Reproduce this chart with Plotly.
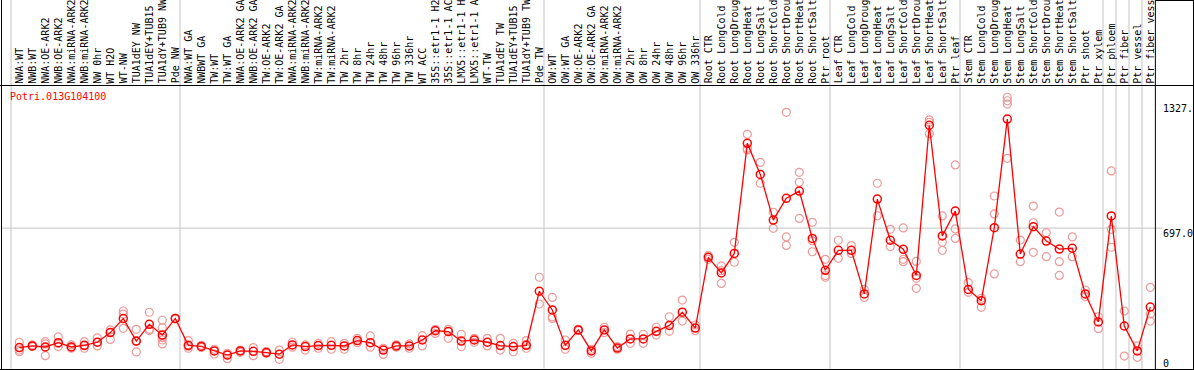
import plotly.graph_objects as go

gene = "Potri.013G104100"

categories = [
    "NWA:WT", "NWB:WT", "NWA:OE-ARK2", "NWB:OE-ARK2", "NWA:miRNA-ARK2", "NWB:miRNA-ARK2",
    "NW 0hr", "WT H2O", "WT-NW", "TUA1dEY NW", "TUA1dEY+TUB15", "TUA1dY+TUB9 NW", "Pde NW",
    "NWA:WT GA", "NWBWT GA", "TW:WT", "TW:WT GA", "NWA:OE-ARK2 GA", "NWB:OE-ARK2 GA",
    "TW:OE-ARK2", "TW:OE-ARK2 GA", "NWA:miRNA-ARK2", "NWB:miRNA-ARK2", "TW:miRNA-ARK2",
    "TW:miRNA-ARK2", "TW 2hr", "TW 8hr", "TW 24hr", "TW 48hr", "TW 96hr", "TW 336hr",
    "WT ACC", "35S::etr1-1 H2", "35S::etr1-1 AC", "LMX5::etr1-1 H", "LMX5::etr1-1 A",
    "WT-TW", "TUA1dEY TW", "TUA1dEY+TUB15", "TUA1dY+TUB9 TW", "Pde TW",
    "OW:WT", "OW:WT GA", "OW:OE-ARK2", "OW:OE-ARK2 GA", "OW:miRNA-ARK2", "OW:miRNA-ARK2",
    "OW 2hr", "OW 8hr", "OW 24hr", "OW 48hr", "OW 96hr", "OW 336hr",
    "Root CTR", "Root LongCold", "Root LongDroug", "Root LongHeat", "Root LongSalt",
    "Root ShortCold", "Root ShortDrou", "Root ShortHeat", "Root ShortSalt", "Ptr root",
    "Leaf CTR", "Leaf LongCold", "Leaf LongDroug", "Leaf LongHeat", "Leaf LongSalt",
    "Leaf ShortCold", "Leaf ShortDrou", "Leaf ShortHeat", "Leaf ShortSalt", "Ptr leaf",
    "Stem CTR", "Stem LongCold", "Stem LongDroug", "Stem LongHeat", "Stem LongSalt",
    "Stem ShortCold", "Stem ShortDrou", "Stem ShortHeat", "Stem ShortSalt", "Ptr shoot", "Ptr xylem",
    "Ptr phloem", "Ptr fiber", "Ptr vessel", "Ptr fiber vess",
]

group_sizes = [13, 28, 12, 10, 10, 11, 1, 1, 1, 1]

means = [
    116, 124, 119, 140, 119, 127, 142, 189, 257, 148, 229, 177, 258,
    127, 122, 100, 80, 100, 98, 92, 84, 129, 121, 126, 127, 124, 150, 140, 104, 124,
    124, 153, 198, 194, 148, 153, 142, 126, 121, 127, 390,
    299, 127, 202, 100, 202, 114, 158, 158, 195, 224, 288, 211,
    555, 479, 574, 1109, 958, 736, 842, 877, 647, 492,
    589, 589, 377, 838, 638, 594, 467, 1197, 659, 780,
    399, 344, 699, 1227, 571, 704, 634, 595, 599, 377, 241,
    756, 221, 100, 313,
]

replicates = [
    [142, 104, 96], [124, 121, 129], [145, 134, 77], [168, 121, 137], [129, 113, 119],
    [145, 113, 124], [163, 124, 142], [202, 156, 189], [294, 279, 210], [205, 95, 148],
    [288, 199, 205], [249, 213, 153, 134, 165], [258, 255],
    [150, 113, 122], [127, 117], [108, 85], [88, 62], [104, 93], [116, 77], [97, 88],
    [104, 59], [142, 118], [129, 104], [137, 113], [145, 108], [137, 108], [140, 161],
    [173, 118], [83, 113], [129, 118], [113, 134], [174, 124], [205, 185], [205, 161],
    [181, 121], [161, 142], [161, 124], [161, 104], [137, 96], [150, 113, 132], [458, 328],
    [360, 266, 258], [153, 108], [205, 198], [108, 88], [215, 189], [121, 108], [182, 137],
    [181, 137], [215, 177], [266, 195], [347, 245], [226, 199],
    [563, 545], [513, 428, 490], [628, 531], [1153, 1085, 1077], [1017, 915], [774, 696],
    [1260, 654, 613], [968, 920, 744], [725, 582, 636], [545, 466, 458],
    [638, 550], [612, 574], [399, 360], [915, 757], [691, 607], [698, 545, 534],
    [535, 404, 453], [1223, 1211, 1156], [756, 628, 589], [1004, 693, 647],
    [432, 385], [312, 356], [853, 766, 474], [1333, 1316, 1300, 1036], [639, 534],
    [804, 723, 579], [675, 558], [775, 534, 467], [654, 558], [396, 364], [266, 208],
    [975, 691, 604], [294, 75], [124, 69], [409, 279, 245],
]

y_ticks = ["1327.", "697.0", "0"]
mid_value = 697.0

# ---- geometry (pixel based) ----
W, H = 1194, 370
X0, DX = 19.3, 13.0          # pixel of first category, spacing
def px2x(p):
    return (p - X0) / DX
Y_MID_PX, PX_PER_UNIT = 228.1, 0.2057
def py2v(p):
    return mid_value + (Y_MID_PX - p) / PX_PER_UNIT
def py2paper(p):
    return 1 - p / H

idx = list(range(len(categories)))

fig = go.Figure()

rx, ry = [], []
for i, reps in enumerate(replicates):
    for r in reps:
        rx.append(i)
        ry.append(r)

fig.add_trace(go.Scatter(
    x=rx, y=ry, mode="markers",
    marker=dict(symbol="circle-open", size=8, color="#ec9a9a", line=dict(width=1.2, color="#ec9a9a")),
    hoverinfo="skip", showlegend=False,
))
fig.add_trace(go.Scatter(
    x=idx, y=means, mode="lines+markers",
    line=dict(color="#ff0000", width=1.3),
    marker=dict(symbol="circle-open", size=8, color="#ff0000", line=dict(width=1.5, color="#ff0000")),
    showlegend=False,
))

shapes = []
bounds = [0]
b = 0
for g in group_sizes:
    b += g
    bounds.append(b)
for k in bounds[:-1]:
    xx = k - (X0 - 11) / DX
    shapes.append(dict(type="line", xref="x", yref="paper", x0=xx, x1=xx, y0=0, y1=1,
                       line=dict(color="#c4c4c4", width=1), layer="below"))
xr = bounds[-1] - (X0 - 11) / DX + 0.03
shapes.append(dict(type="line", xref="x", yref="paper", x0=xr, x1=xr, y0=0, y1=1,
                   line=dict(color="black", width=1)))
shapes.append(dict(type="line", xref="x", yref="y", x0=px2x(1.5), x1=px2x(1162), y0=mid_value, y1=mid_value,
                   line=dict(color="#c4c4c4", width=1), layer="below"))
shapes.append(dict(type="line", xref="paper", yref="paper", x0=0, x1=1, y0=py2paper(85.5), y1=py2paper(85.5),
                   line=dict(color="black", width=1)))
shapes.append(dict(type="line", xref="paper", yref="paper", x0=0, x1=1, y0=py2paper(369.5), y1=py2paper(369.5),
                   line=dict(color="black", width=1)))
shapes.append(dict(type="line", xref="paper", yref="paper", x0=1.5 / W, x1=1.5 / W, y0=0, y1=1,
                   line=dict(color="black", width=1)))
shapes.append(dict(type="line", xref="paper", yref="paper", x0=1193.5 / W, x1=1193.5 / W, y0=0, y1=1,
                   line=dict(color="black", width=1)))
shapes.append(dict(type="line", xref="x", yref="paper", x0=xr, x1=px2x(1194), y0=py2paper(0.5), y1=py2paper(0.5),
                   line=dict(color="black", width=1)))

annotations = []
mono = "DejaVu Sans Mono"
for i, lab in enumerate(categories):
    annotations.append(dict(x=i, xref="x", y=py2paper(84.5), yref="paper", text=lab, textangle=-90,
                            xanchor="center", yanchor="bottom", showarrow=False,
                            font=dict(family=mono, size=10, color="black"), borderpad=0))
annotations.append(dict(x=9 / W, xref="paper", y=py2paper(90), yref="paper", text=gene,
                        xanchor="left", yanchor="top", showarrow=False,
                        font=dict(family=mono, size=10, color="#ff0000"), borderpad=0))
tick_px = [102, 227, 357]
for t, p in zip(y_ticks, tick_px):
    annotations.append(dict(x=1162 / W, xref="paper", y=py2paper(p), yref="paper", text=t,
                            xanchor="left", yanchor="top", showarrow=False,
                            font=dict(family=mono, size=10, color="black"), borderpad=0))

fig.update_layout(
    width=W, height=H,
    margin=dict(l=0, r=0, t=0, b=0, pad=0),
    paper_bgcolor="white", plot_bgcolor="white",
    xaxis=dict(range=[px2x(0), px2x(W)], showgrid=False, zeroline=False, showticklabels=False,
               ticks="", showline=False, fixedrange=True),
    yaxis=dict(range=[py2v(H), py2v(0)], showgrid=False, zeroline=False, showticklabels=False,
               ticks="", showline=False, fixedrange=True),
    shapes=shapes, annotations=annotations, showlegend=False,
)

fig.write_html("out.html", config={"displayModeBar": False},
               post_script="document.body.style.margin='0px';document.body.style.padding='0px';")
